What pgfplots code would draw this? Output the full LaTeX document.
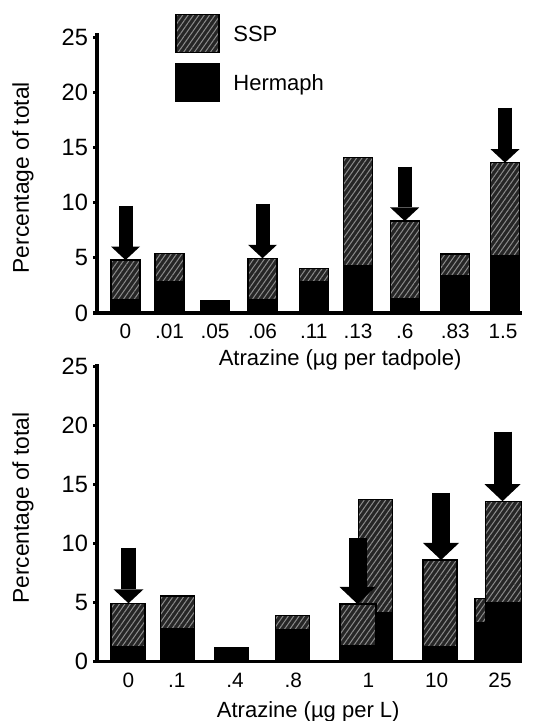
\documentclass[border=0pt]{standalone}
\usepackage{fontspec}
\setmainfont{Liberation Sans}
\usepackage{pgfplots}
\usepackage{pgfplotstable}
\pgfplotsset{compat=1.18}
\usetikzlibrary{patterns.meta,arrows.meta}

\tikzset{
  ssp/.style={preaction={fill=black!85},
              preaction={pattern={Lines[angle=55,distance=2.2pt,line width=0.5pt]}, pattern color=black!45},
              draw=black, line width=0.6pt},
  herm/.style={fill=black, draw=black, line width=0.6pt},
}

% top panel: x = bar centre position
\pgfplotstableread{
x     tot    herm
125.5 4.80   1.18
169.5 5.41   2.84
215.0 1.09   1.09
262.5 4.96   1.18
313.7 4.06   2.84
358.0 14.12  4.29
404.7 8.34   1.27
455.3 5.35   3.35
505.0 13.63  5.17
}\topdata
\pgfplotstableread{
x     y      dv
125.5 9.72   -4.92
262.5 9.88   -4.92
404.7 13.26  -4.92
505.0 18.61  -4.98
}\toparrows

% bottom panel: back bars and single bars
\pgfplotstableread{
x     tot    herm
128.0 4.95   1.27
177.2 5.57   2.83
231.3 1.22   1.22
292.2 3.90   2.69
375.3 13.76  4.15
440.0 8.62   1.27
492.0 5.34   3.34
}\botdata
% bottom panel: front bars of the overlapping pairs
\pgfplotstableread{
x     tot    herm
358.0 4.89   1.33
503.3 13.60  5.00
}\botfront
\pgfplotstableread{
x     y      dv
128.5 9.66   -4.71
}\botarrowsA
\pgfplotstableread{
x     y      dv
357.5 10.46  -5.57
441.0 14.30  -5.68
502.5 19.50  -5.90
}\botarrowsB

\pgfplotsset{
  every axis/.append style={
    scale only axis, clip=false,
    font=\fontsize{11}{13}\selectfont,
    xmin=97, xmax=522, ymin=0,
    axis x line=bottom, axis y line=left,
    axis line style={-, line width=1.75pt},
    ytick={0,5,10,15,20,25},
    tick align=outside, major tick length=2pt,
    ytick style={line width=1.6pt, black},
    xtick style={draw=none},
    /pgf/number format/assume math mode=true,
    yticklabel style={font=\fontsize{11.8}{14}\selectfont, inner sep=2.3pt},
    xticklabel style={font=\fontsize{10.4}{12}\selectfont},
    ylabel={Percentage of total},
  },
}

\begin{document}
\begin{tikzpicture}
\path[use as bounding box] (0,0) rectangle (273.5pt,360.5pt);

% ---------------- top panel ----------------
\begin{axis}[
  at={(48.5pt,204pt)}, anchor=south west,
  width=212.5pt, height=140.1pt, ymax=25.4,
  xtick={125.5,169.5,215,262.5,313.7,358,404.7,455.3,503},
  xticklabels={0,.01,.05,.06,.11,.13,.6,.83,1.5},
  xlabel={Atrazine (µg per tadpole)},
  xlabel style={at={(axis description cs:0.572,-0.1676)}, anchor=center},
  ylabel style={at={(axis description cs:-0.174,0.483)}, anchor=center, font=\fontsize{11.4}{13}\selectfont},
  legend style={draw=none, fill=none, inner sep=0pt, row sep=4.65pt,
    at={(axis description cs:0.1835,1.0689)}, anchor=north west,
    nodes={inner sep=0pt}, cells={anchor=base west},
    font=\fontsize{11}{13}\selectfont},
]
\addlegendimage{legend image code/.code={\draw[ssp] (0pt,-5.7pt) rectangle (21.5pt,13.5pt); \path[draw=none,fill=none] (21.5pt,0pt) rectangle (28.7pt,0.1pt);}}
\addlegendentry{SSP}
\addlegendimage{legend image code/.code={\draw[herm] (0pt,-5.7pt) rectangle (21.5pt,13.5pt); \path[draw=none,fill=none] (21.5pt,0pt) rectangle (28.7pt,0.1pt);}}
\addlegendentry{Hermaph}
\addplot[ybar, bar width=29, bar shift=0pt, ssp, forget plot] table[x=x,y=tot]{\topdata};
\addplot[ybar, bar width=29, bar shift=0pt, herm, forget plot] table[x=x,y=herm]{\topdata};
\addplot[quiver={u=0,v=\thisrow{dv}}, black, line width=7pt,
  -{Triangle[width=14.5pt,length=6.75pt,line width=0pt]}, forget plot]
  table[x=x,y=y]{\toparrows};
\end{axis}

% ---------------- bottom panel ----------------
\begin{axis}[
  at={(48.5pt,29.65pt)}, anchor=south west,
  width=212.5pt, height=148.7pt, ymax=25.2,
  xtick={128.3,176.7,235,293.3,368.3,436.7,500},
  xticklabels={0,.1,.4,.8,1,10,25},
  xlabel={Atrazine (µg per L)},
  xlabel style={at={(axis description cs:0.497,-0.168)}, anchor=center},
  ylabel style={at={(axis description cs:-0.174,0.517)}, anchor=center, font=\fontsize{11.4}{13}\selectfont},
]
\addplot[ybar, bar width=34, bar shift=0pt, ssp] table[x=x,y=tot]{\botdata};
\addplot[ybar, bar width=34, bar shift=0pt, herm] table[x=x,y=herm]{\botdata};
\addplot[ybar, bar width=36, bar shift=0pt, ssp] table[x=x,y=tot]{\botfront};
\addplot[ybar, bar width=36, bar shift=0pt, herm] table[x=x,y=herm]{\botfront};
\addplot[quiver={u=0,v=\thisrow{dv}}, black, line width=7.5pt,
  -{Triangle[width=15pt,length=7pt,line width=0pt]}]
  table[x=x,y=y]{\botarrowsA};
\addplot[quiver={u=0,v=\thisrow{dv}}, black, line width=9pt,
  -{Triangle[width=18pt,length=8.5pt,line width=0pt]}]
  table[x=x,y=y]{\botarrowsB};
\end{axis}
\end{tikzpicture}
\end{document}
